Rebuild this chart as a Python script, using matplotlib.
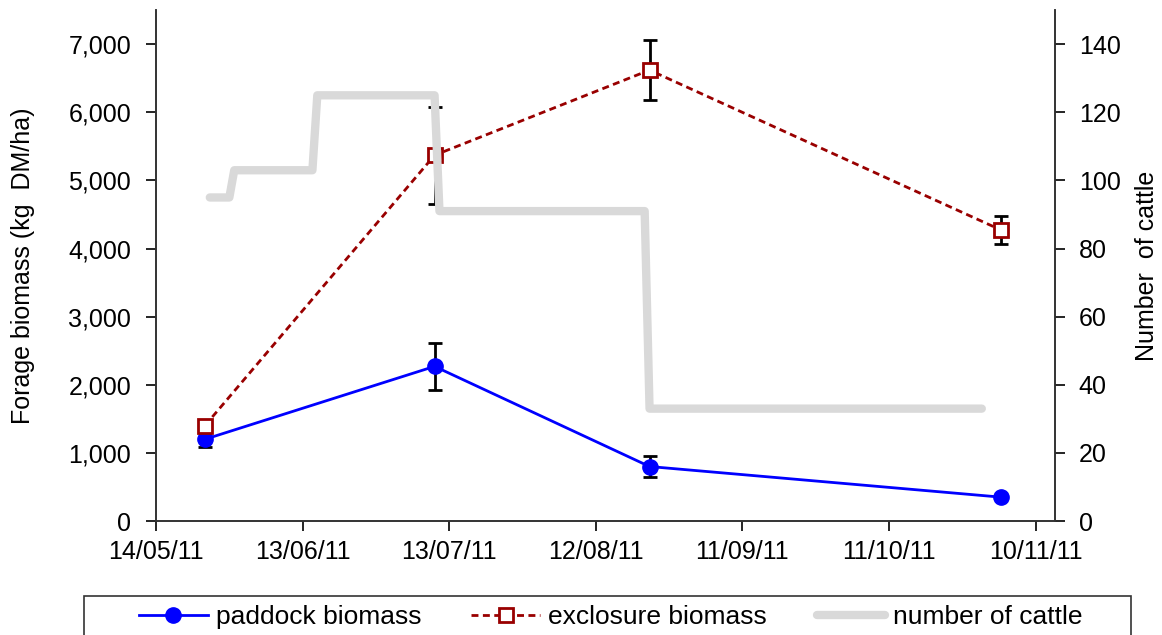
import matplotlib
matplotlib.use("Agg")
import matplotlib.pyplot as plt
import matplotlib.dates as mdates
from matplotlib.patches import Rectangle
from matplotlib.ticker import FuncFormatter
import pandas as pd

plt.rcParams['font.family'] = ['Liberation Sans', 'DejaVu Sans']

# sampling dates and biomass (kg DM/ha)
sample_dates = pd.to_datetime(["2011-05-24", "2011-07-10", "2011-08-23", "2011-11-03"])
paddock = [1200, 2270, 800, 350]
paddock_err = [110, 350, 150, 30]
exclosure = [1400, 5370, 6620, 4270]
exclosure_err = [60, 710, 440, 210]

# number of cattle in paddock
cattle_dates = pd.to_datetime(["2011-05-25", "2011-05-29", "2011-05-30", "2011-06-15",
                               "2011-06-16", "2011-07-10", "2011-07-11", "2011-08-22",
                               "2011-08-23", "2011-10-30"])
cattle = [95, 95, 103, 103, 125, 125, 91, 91, 33, 33]

tick_dates = pd.date_range("2011-05-14", periods=7, freq="30D")

fig = plt.figure(figsize=(11.62, 6.35), dpi=100)
ax1 = fig.add_axes([0.1343, 0.1795, 0.7737, 0.8045])
ax2 = ax1.twinx()

l1 = ax1.errorbar(sample_dates, paddock, yerr=paddock_err, color='#0000ff', lw=2,
                  marker='o', ms=11, ecolor='black', elinewidth=2, capsize=5, capthick=2,
                  label='paddock biomass')
l2 = ax1.errorbar(sample_dates, exclosure, yerr=exclosure_err, color='#990000', lw=2,
                  ls=(0, (2.5, 1.6)), marker='s', ms=10, mfc='white', mew=2,
                  ecolor='black', elinewidth=2, capsize=5, capthick=2,
                  label='exclosure biomass')
l3, = ax2.plot(cattle_dates, cattle, color='#d9d9d9', lw=6, solid_capstyle='round',
               solid_joinstyle='round', label='number of cattle')

ax1.set_xlim(pd.Timestamp("2011-05-14"), pd.Timestamp("2011-11-14"))
ax1.set_ylim(0, 7500)
ax2.set_ylim(0, 150)
ax1.set_yticks(range(0, 8000, 1000))
ax2.set_yticks(range(0, 160, 20))
ax1.yaxis.set_major_formatter(FuncFormatter(lambda v, p: f"{int(v):,}"))
ax1.set_xticks(tick_dates)
ax1.xaxis.set_major_formatter(mdates.DateFormatter("%d/%m/%y"))

for ax in (ax1, ax2):
    ax.tick_params(labelsize=18, direction='out', length=7, width=1.2, colors='black')
    for s in ax.spines.values():
        s.set_linewidth(1.2)
        s.set_color('#333333')
ax1.tick_params(axis='y', pad=11)
ax1.tick_params(axis='x', pad=7)
ax2.tick_params(axis='y', pad=10)
ax1.spines['top'].set_visible(False)
ax2.spines['top'].set_visible(False)

ax1.set_ylabel("Forage biomass (kg  DM/ha)", fontsize=18)
ax2.set_ylabel("Number  of cattle", fontsize=18)
ax1.yaxis.set_label_coords(-0.135, 0.5)
ax2.yaxis.set_label_coords(1.089, 0.5)

# legend box runs off the bottom edge, as in the original
fig.patches.append(Rectangle((84 / 1162, -0.05), 1047 / 1162, 0.05 + 0.0614,
                             transform=fig.transFigure, fill=False,
                             edgecolor='#333333', lw=1.2))
fig.legend([l1[0], l2[0], l3], ['paddock biomass', 'exclosure biomass', 'number of cattle'],
           loc='center', bbox_to_anchor=(0.5258, 0.0283), ncol=3, fontsize=19,
           frameon=False, handlelength=2.6, handletextpad=0.3, columnspacing=1.9)

fig.savefig("out.png", dpi=100)
